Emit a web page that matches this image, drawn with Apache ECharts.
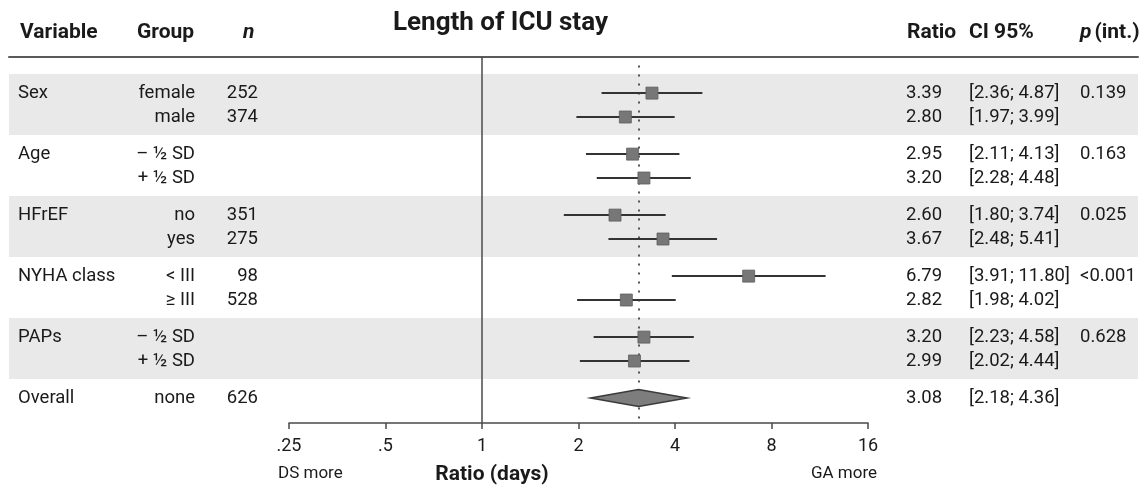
<!DOCTYPE html>
<html>
<head>
<meta charset="utf-8">
<script src="https://cdn.jsdelivr.net/npm/echarts@6/dist/echarts.min.js"></script>
<style>
html,body{margin:0;padding:0;background:#fff;}
#chart{width:1146px;height:489px;}
</style>
</head>
<body>
<div id="chart"></div>
<script>
// ---------------- DATA ----------------
const variables = ['Sex', 'Age', 'HFrEF', 'NYHA class', 'PAPs', 'Overall'];
const groups = ['female', 'male', '– ½ SD', '+ ½ SD', 'no', 'yes', '< III', '≥ III', '– ½ SD', '+ ½ SD', 'none'];
const nValues = [252, 374, null, null, 351, 275, 98, 528, null, null, 626];
const ratios = [3.39, 2.80, 2.95, 3.20, 2.60, 3.67, 6.79, 2.82, 3.20, 2.99, 3.08];
const ciLow  = [2.36, 1.97, 2.11, 2.28, 1.80, 2.48, 3.91, 1.98, 2.23, 2.02, 2.18];
const ciHigh = [4.87, 3.99, 4.13, 4.48, 3.74, 5.41, 11.80, 4.02, 4.58, 4.44, 4.36];
const ciText = ['[2.36; 4.87]', '[1.97; 3.99]', '[2.11; 4.13]', '[2.28; 4.48]', '[1.80; 3.74]',
                '[2.48; 5.41]', '[3.91; 11.80]', '[1.98; 4.02]', '[2.23; 4.58]', '[2.02; 4.44]', '[2.18; 4.36]'];
const pInteraction = ['0.139', '0.163', '0.025', '<0.001', '0.628', ''];
const xTicks = [0.25, 0.5, 1, 2, 4, 8, 16];
const xTickLabels = ['.25', '.5', '1', '2', '4', '8', '16'];

// ---------------- LAYOUT ----------------
const FONT = 'Roboto, "Noto Sans", sans-serif';
const TXT = '#1a1a1a';
const GRID_TOP = 57, GRID_BOTTOM = 66;
const Y_MAX = 15;              // y units spanning the grid height
const BLOCK0 = 0.7, BLOCK_H = 2.5, ROW_OFF = 0.78, ROW_STEP = 0.98;
const TABLE_LEFT = 9, TABLE_RIGHT = 8;
const col = {variable: 18, group: 195, n: 258, ratio: 906, ci: 969, p: 1080};

function blockOf(i) { return Math.floor(i / 2); }
function rowY(i) { return BLOCK0 + BLOCK_H * blockOf(i) + ROW_OFF + (i % 2) * ROW_STEP; }
const rowYs = groups.map((g, i) => rowY(i));

// shaded bands for blocks 0, 2, 4
const bands = [];
for (let b = 0; b < variables.length - 1; b += 2) {
  bands.push([{yAxis: BLOCK0 + BLOCK_H * b}, {yAxis: BLOCK0 + BLOCK_H * (b + 1)}]);
}

function tickLabel(v) {
  for (let k = 0; k < xTicks.length; k++) {
    if (Math.abs(v - xTicks[k]) < 1e-6) return xTickLabels[k];
  }
  return '';
}

const chart = echarts.init(document.getElementById('chart'), null, {renderer: 'canvas'});

const lastIdx = groups.length - 1;

const option = {
  animation: false,
  backgroundColor: '#fff',
  textStyle: {fontFamily: FONT},
  grid: [
    {left: TABLE_LEFT, right: TABLE_RIGHT, top: GRID_TOP, bottom: GRID_BOTTOM, containLabel: false},
    {left: 289, right: 1146 - 868, top: GRID_TOP, bottom: GRID_BOTTOM, containLabel: false}
  ],
  xAxis: [
    {gridIndex: 0, type: 'value', min: 0, max: 1146 - TABLE_LEFT - TABLE_RIGHT, position: 'top',
     axisLine: {show: true, onZero: false, lineStyle: {color: '#5a5a5a', width: 2}},
     axisTick: {show: false}, axisLabel: {show: false}, splitLine: {show: false}},
    {gridIndex: 1, type: 'log', logBase: 2, min: 0.25, max: 16, position: 'bottom',
     axisLine: {show: true, onZero: false, lineStyle: {color: '#4a4a4a', width: 1.5}},
     axisTick: {show: true, length: 6, lineStyle: {color: '#4a4a4a', width: 1.5}},
     axisLabel: {show: true, margin: 14, fontSize: 18, color: TXT, fontFamily: FONT, formatter: tickLabel},
     splitLine: {show: false}, minorTick: {show: false}}
  ],
  yAxis: [
    {gridIndex: 0, type: 'value', min: 0, max: Y_MAX, inverse: true, show: false},
    {gridIndex: 1, type: 'value', min: 0, max: Y_MAX, inverse: true, show: false}
  ],
  graphic: [
    {type: 'text', left: 393, top: 10, z: 10,
     style: {text: 'Length of ICU stay', font: 'bold 26px ' + FONT, fill: TXT}},
    {type: 'text', x: 20, y: 33, style: {text: 'Variable', font: 'bold 21px ' + FONT, fill: TXT, verticalAlign: 'middle'}},
    {type: 'text', x: 137, y: 33, style: {text: 'Group', font: 'bold 21px ' + FONT, fill: TXT, verticalAlign: 'middle'}},
    {type: 'text', x: 243, y: 33, style: {text: 'n', font: 'italic bold 21px ' + FONT, fill: TXT, verticalAlign: 'middle'}},
    {type: 'text', x: 907, y: 33, style: {text: 'Ratio', font: 'bold 21px ' + FONT, fill: TXT, verticalAlign: 'middle'}},
    {type: 'text', x: 969, y: 33, style: {text: 'CI 95%', font: 'bold 21px ' + FONT, fill: TXT, verticalAlign: 'middle'}},
    {type: 'text', x: 1080, y: 33, style: {
      text: '{p|p}{r|(int.)}', verticalAlign: 'middle', fill: TXT,
      rich: {p: {fontFamily: FONT, fontSize: 21, fontWeight: 'bold', fontStyle: 'italic', fill: TXT, padding: [0, 3, 0, 0]},
             r: {fontFamily: FONT, fontSize: 21, fontWeight: 'bold', fill: TXT}}}},
    {type: 'text', x: 278, y: 474, style: {text: 'DS more', font: '17px ' + FONT, fill: TXT, verticalAlign: 'middle'}},
    {type: 'text', x: 877, y: 474, style: {text: 'GA more', font: '17px ' + FONT, fill: TXT, align: 'right', verticalAlign: 'middle'}},
    {type: 'text', x: 492, y: 475, style: {text: 'Ratio (days)', font: 'bold 21px ' + FONT, fill: TXT, align: 'center', verticalAlign: 'middle'}}
  ],
  series: [
    // table text + shaded bands
    {
      type: 'custom', xAxisIndex: 0, yAxisIndex: 0, z: 1, silent: true,
      data: rowYs.map((y, i) => [i, y]),
      encode: {x: 0, y: 1},
      renderItem: function (params, api) {
        const i = params.dataIndex;
        const y = api.value(1);
        const at = (px) => api.coord([px - TABLE_LEFT, y]);
        const children = [];
        const font = '18.5px ' + FONT;
        const first = (i % 2 === 0);
        if (first) {
          const p = at(col.variable);
          children.push({type: 'text', x: p[0], y: p[1], style: {text: variables[blockOf(i)], font, fill: TXT, align: 'left', verticalAlign: 'middle'}});
          const pp = at(col.p);
          children.push({type: 'text', x: pp[0], y: pp[1], style: {text: pInteraction[blockOf(i)], font, fill: TXT, align: 'left', verticalAlign: 'middle'}});
        }
        const g = at(col.group);
        children.push({type: 'text', x: g[0], y: g[1], style: {text: groups[i], font, fill: TXT, align: 'right', verticalAlign: 'middle'}});
        if (nValues[i] !== null) {
          const n = at(col.n);
          children.push({type: 'text', x: n[0], y: n[1], style: {text: String(nValues[i]), font, fill: TXT, align: 'right', verticalAlign: 'middle'}});
        }
        const r = at(col.ratio);
        children.push({type: 'text', x: r[0], y: r[1], style: {text: ratios[i].toFixed(2), font, fill: TXT, align: 'left', verticalAlign: 'middle'}});
        const c = at(col.ci);
        children.push({type: 'text', x: c[0], y: c[1], style: {text: ciText[i], font, fill: TXT, align: 'left', verticalAlign: 'middle'}});
        return {type: 'group', children};
      },
      markArea: {
        silent: true,
        itemStyle: {color: '#e9e9e9'},
        data: bands
      }
    },
    // CI lines and summary diamond
    {
      type: 'custom', xAxisIndex: 1, yAxisIndex: 1, z: 5, silent: true,
      data: ratios.map((r, i) => [r, rowYs[i], ciLow[i], ciHigh[i]]),
      encode: {x: [0, 2, 3], y: 1},
      renderItem: function (params, api) {
        const i = params.dataIndex;
        const y = api.value(1);
        const lo = api.coord([api.value(2), y]);
        const hi = api.coord([api.value(3), y]);
        const mid = api.coord([api.value(0), y]);
        if (i === lastIdx) {
          return {type: 'polygon', shape: {points: [[lo[0], mid[1]], [mid[0], mid[1] - 8.5], [hi[0], mid[1]], [mid[0], mid[1] + 8.5]]},
                  style: {fill: '#7d7d7d', stroke: '#3a3a3a', lineWidth: 1.5}};
        }
        return {type: 'line', shape: {x1: lo[0], y1: lo[1], x2: hi[0], y2: hi[1]},
                style: {stroke: '#333', lineWidth: 2}};
      },
      markLine: {
        silent: true, symbol: 'none', label: {show: false},
        data: [
          [{coord: [1, 0]}, {coord: [1, Y_MAX]}],
          [{coord: [ratios[lastIdx], 0.35]}, {coord: [ratios[lastIdx], Y_MAX]}]
        ].map((d, k) => k === 0
          ? d.map(p => Object.assign({lineStyle: {color: '#4a4a4a', width: 1.5, type: 'solid'}}, p))
          : d.map(p => Object.assign({lineStyle: {color: '#555', width: 2, type: [2, 7]}}, p)))
      }
    },
    // point estimates
    {
      type: 'scatter', xAxisIndex: 1, yAxisIndex: 1, z: 6, silent: true,
      symbol: 'rect', symbolSize: 12,
      itemStyle: {color: '#777', borderColor: '#5e5e5e', borderWidth: 0.8, opacity: 1},
      data: ratios.slice(0, lastIdx).map((r, i) => [r, rowYs[i]])
    }
  ]
};
chart.setOption(option);
</script>
</body>
</html>
